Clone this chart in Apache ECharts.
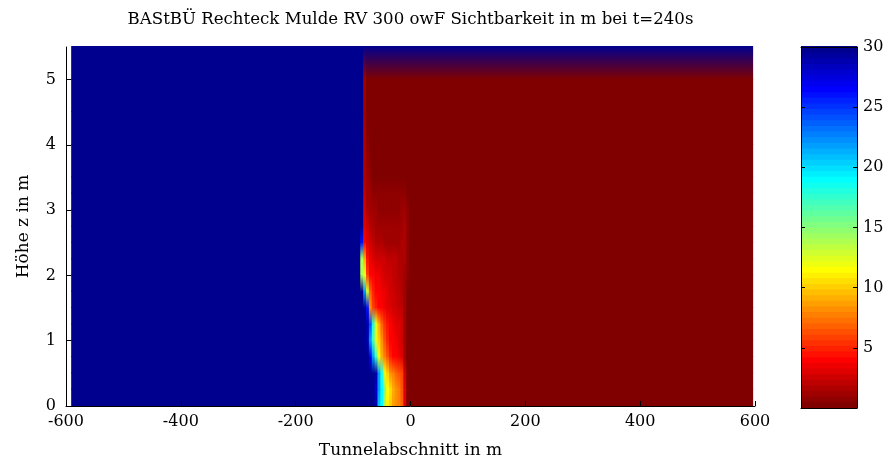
<!DOCTYPE html>
<html><head><meta charset="utf-8">
<script src="https://cdn.jsdelivr.net/npm/echarts@6/dist/echarts.min.js"></script>
<style>html,body{margin:0;padding:0;background:#fff}#c{width:888px;height:463px}</style>
</head><body><div id="c"></div>
<script>
const titleText = 'BAStBÜ Rechteck Mulde RV 300 owF Sichtbarkeit in m bei t=240s';
const xAxisName = 'Tunnelabschnitt in m';
const yAxisName = 'Höhe z in m';
const xTicks = [-600, -400, -200, 0, 200, 400, 600];
const zTicks = [0, 1, 2, 3, 4, 5];
const cbTicks = [5, 10, 15, 20, 25, 30];

// grid nodes (x in m, z in m)
const xNodes = [-591, -95, -90, -85, -80, -75, -70, -65, -60, -55, -50, -45, -40, -35, -30, -25, -20, -15, -10, -5, 0, 595];
const zNodes = [0, 0.25, 0.5, 0.75, 1.0, 1.25, 1.5, 1.75, 2.0, 2.25, 2.5, 2.75, 3.0, 3.25, 3.5, 4.0, 4.5, 5.0, 5.5];

// Sichtbarkeit in m, one row per z node (columns follow xNodes)
const vis_z000 = [30,30,30,30,30,30,30,30,29,21,19,14,11,10,8.5,8,7.5,7,3,0.2,0.2,0.2];
const vis_z025 = [30,30,30,30,30,30,30,30,28,22,19,15,11.5,10.5,9,8,7.5,6.5,3,0.2,0.2,0.2];
const vis_z050 = [30,30,30,30,30,30,30,30,29,22,18,12,10,8,7.5,7,6.5,6,2.5,0.2,0.2,0.2];
const vis_z075 = [30,30,30,30,30,30,27,22,17,12,9,7.5,6.5,5,4,3.8,3.5,3,1.2,0.2,0.2,0.2];
const vis_z100 = [30,30,30,30,30,29,22,17,12,10,8,6.5,5,4,3.8,3.5,3,2.5,1,0.2,0.2,0.2];
const vis_z125 = [30,30,30,30,30,29,24,18,12,9,7,5.5,4.5,4,3.5,3.2,3,2.5,1,0.2,0.2,0.2];
const vis_z150 = [30,30,30,30,30,26,8,6,5,4,3.8,3.5,3.2,3,2.8,2.5,2.2,2,1,0.3,0.2,0.2];
const vis_z175 = [30,30,30,30,22,13,7,5,4,3.8,3.5,3.3,3,2.8,2.5,2.2,2,1.8,1.2,0.3,0.2,0.2];
const vis_z200 = [30,30,30,14,12,6,4,3.8,3.5,3.3,3,2.8,2.6,2.4,2.2,2,1.8,1.6,1.4,0.5,0.2,0.2];
const vis_z225 = [30,30,30,14,9,4.5,3.5,3,2.8,2.6,2.5,2.4,2.3,2.2,2,1.9,1.8,1.7,1.6,0.6,0.2,0.2];
const vis_z250 = [30,30,30,26,4,3.2,2.4,2,1.8,1.6,1.5,1.4,1.4,1.3,1.3,1.3,1.4,1.6,1.8,0.8,0.2,0.2];
const vis_z275 = [30,30,30,30,3.2,2.4,1.8,1.5,1.3,1.2,1.1,1.1,1.1,1.1,1.1,1.1,1.2,1.3,1.5,0.6,0.2,0.2];
const vis_z300 = [30,30,30,30,2.6,1.8,1.4,1.1,1,0.9,0.9,0.8,0.8,0.8,0.8,0.8,0.9,1.1,1.2,0.5,0.2,0.2];
const vis_z325 = [30,30,30,30,2.2,1.4,1,0.8,0.6,0.6,0.6,0.6,0.6,0.6,0.6,0.6,0.6,0.7,0.8,0.3,0.2,0.2];
const vis_z350 = [30,30,30,30,1.8,1,0.6,0.3,0.3,0.3,0.3,0.3,0.3,0.3,0.3,0.3,0.3,0.3,0.3,0.2,0.2,0.2];
const vis_z400 = [30,30,30,30,1.5,0.6,0.2,0.2,0.2,0.2,0.2,0.2,0.2,0.2,0.2,0.2,0.2,0.2,0.2,0.2,0.2,0.2];
const vis_z450 = [30,30,30,30,1.2,0.4,0.2,0.2,0.2,0.2,0.2,0.2,0.2,0.2,0.2,0.2,0.2,0.2,0.2,0.2,0.2,0.2];
const vis_z500 = [30,30,30,30,1,0.2,0.2,0.2,0.2,0.2,0.2,0.2,0.2,0.2,0.2,0.2,0.2,0.2,0.2,0.2,0.2,0.2];
const vis_z550 = [30,30,30,30,30,30,30,30,30,30,30,30,30,30,30,30,30,30,30,30,30,30];
const visRows = [vis_z000, vis_z025, vis_z050, vis_z075, vis_z100, vis_z125, vis_z150, vis_z175, vis_z200,
  vis_z225, vis_z250, vis_z275, vis_z300, vis_z325, vis_z350, vis_z400, vis_z450, vis_z500, vis_z550];

const cMin = 0, cMax = 30, nLevels = 64;

// MATLAB jet(64)
function jetMap(n) {
  const m = Math.ceil(n / 4);
  const u = [];
  for (let i = 1; i <= m; i++) u.push(i / m);
  for (let i = 1; i <= m - 1; i++) u.push(1);
  for (let i = m; i >= 1; i--) u.push(i / m);
  const g0 = Math.ceil(m / 2) - (n % 4 === 1 ? 1 : 0);
  const J = [];
  for (let i = 0; i < n; i++) J.push([0, 0, 0]);
  for (let k = 0; k < u.length; k++) {
    const gi = g0 + k + 1, ri = gi + m, bi = gi - m;
    if (ri >= 1 && ri <= n) J[ri - 1][0] = u[k];
    if (gi >= 1 && gi <= n) J[gi - 1][1] = u[k];
    if (bi >= 1 && bi <= n) J[bi - 1][2] = u[k];
  }
  return J.map(c => 'rgb(' + c.map(x => Math.round(x * 255)).join(',') + ')');
}
const jet = jetMap(nLevels);
function levelOf(v) {
  return Math.max(0, Math.min(nLevels - 1, Math.floor((v - cMin) / (cMax - cMin) * nLevels)));
}
function cmap(v) { return jet[nLevels - 1 - levelOf(v)]; }

// cells: [xLeft, xRight, zBottom, zTop, vBottom, vTop]
const cells = [];
for (let i = 0; i < zNodes.length - 1; i++) {
  for (let j = 0; j < xNodes.length; j++) {
    const xl = j === 0 ? xNodes[0] : (xNodes[j - 1] + xNodes[j]) / 2;
    const xr = j === xNodes.length - 1 ? xNodes[j] : (xNodes[j] + xNodes[j + 1]) / 2;
    cells.push([xl, xr, zNodes[i], zNodes[i + 1], visRows[i][j], visRows[i + 1][j]]);
  }
}
const cbCells = [];
for (let i = 0; i < nLevels; i++) {
  const lo = cMin + i * (cMax - cMin) / nLevels, hi = cMin + (i + 1) * (cMax - cMin) / nLevels;
  cbCells.push([0, 1, lo, hi, i]);
}

const FONT = 'DejaVu Serif';
const chart = echarts.init(document.getElementById('c'), null, {renderer: 'canvas'});
const axisCommon = {
  axisLine: {show: true, onZero: false, lineStyle: {color: '#000', width: 1}},
  axisTick: {show: true, inside: true, length: 5, lineStyle: {color: '#000'}},
  axisLabel: {color: '#000', fontFamily: FONT, fontSize: 16},
  splitLine: {show: false},
  z: 10
};
chart.setOption({
  animation: false,
  textStyle: {fontFamily: FONT},
  graphic: [{
    type: 'text', x: 410.5, y: 20, z: 20,
    style: {text: titleText, fontFamily: FONT, fontSize: 16.6, fill: '#000', align: 'center', verticalAlign: 'middle'}
  }],
  grid: [
    {left: 66, right: 133, top: 47, bottom: 57, outerBoundsMode: 'none', containLabel: false},
    {left: 801, right: 31, top: 47, bottom: 55, outerBoundsMode: 'none', containLabel: false}
  ],
  xAxis: [
    Object.assign({}, axisCommon, {
      gridIndex: 0, type: 'value', min: -600, max: 600, interval: 200,
      axisLabel: Object.assign({}, axisCommon.axisLabel, {margin: 8, customValues: xTicks}),
      axisTick: Object.assign({}, axisCommon.axisTick, {customValues: xTicks}),
      name: xAxisName, nameLocation: 'middle', nameGap: 36,
      nameTextStyle: {color: '#000', fontFamily: FONT, fontSize: 17}
    }),
    {gridIndex: 1, type: 'value', min: 0, max: 1, position: 'bottom', z: 10,
      axisLine: {show: true, onZero: false, lineStyle: {color: '#000'}}, axisTick: {show: false}, axisLabel: {show: false}, splitLine: {show: false}},
    {gridIndex: 1, type: 'value', min: 0, max: 1, position: 'top', z: 10,
      axisLine: {show: true, onZero: false, lineStyle: {color: '#000'}}, axisTick: {show: false}, axisLabel: {show: false}, splitLine: {show: false}}
  ],
  yAxis: [
    Object.assign({}, axisCommon, {
      gridIndex: 0, type: 'value', min: 0, max: 5.5, interval: 1,
      axisLabel: Object.assign({}, axisCommon.axisLabel, {margin: 10, customValues: zTicks}),
      axisTick: Object.assign({}, axisCommon.axisTick, {customValues: zTicks}),
      name: yAxisName, nameLocation: 'middle', nameGap: 34, nameRotate: 90,
      nameTextStyle: {color: '#000', fontFamily: FONT, fontSize: 17}
    }),
    Object.assign({}, axisCommon, {
      gridIndex: 1, type: 'value', min: 0, max: 30, interval: 5, position: 'right',
      axisLabel: Object.assign({}, axisCommon.axisLabel, {margin: 6, customValues: cbTicks}),
      axisTick: Object.assign({}, axisCommon.axisTick, {length: 4, customValues: cbTicks})
    }),
    Object.assign({}, axisCommon, {
      gridIndex: 1, type: 'value', min: 0, max: 30, interval: 5, position: 'left',
      axisLabel: {show: false},
      axisTick: Object.assign({}, axisCommon.axisTick, {length: 4, customValues: cbTicks})
    })
  ],
  series: [
    {
      type: 'custom', xAxisIndex: 0, yAxisIndex: 0, data: cells, z: 2, silent: true,
      renderItem: function (params, api) {
        const p0 = api.coord([api.value(0), api.value(2)]);
        const p1 = api.coord([api.value(1), api.value(3)]);
        const cb = cmap(api.value(4)), ct = cmap(api.value(5));
        const fill = cb === ct ? cb : new echarts.graphic.LinearGradient(0, 0, 0, 1,
          [{offset: 0, color: ct}, {offset: 1, color: cb}]);
        return {
          type: 'rect',
          shape: {x: p0[0], y: p1[1] - 1, width: p1[0] - p0[0] + 1, height: p0[1] - p1[1] + 1},
          style: {fill: fill, stroke: null, lineWidth: 0}
        };
      }
    },
    {
      type: 'custom', xAxisIndex: 1, yAxisIndex: 1, data: cbCells, z: 2, silent: true,
      renderItem: function (params, api) {
        const p0 = api.coord([api.value(0), api.value(2)]);
        const p1 = api.coord([api.value(1), api.value(3)]);
        return {
          type: 'rect',
          shape: {x: p0[0], y: p1[1] - 1, width: p1[0] - p0[0], height: p0[1] - p1[1] + 1},
          style: {fill: jet[nLevels - 1 - api.value(4)], stroke: null, lineWidth: 0}
        };
      }
    }
  ]
});
</script>
</body></html>
